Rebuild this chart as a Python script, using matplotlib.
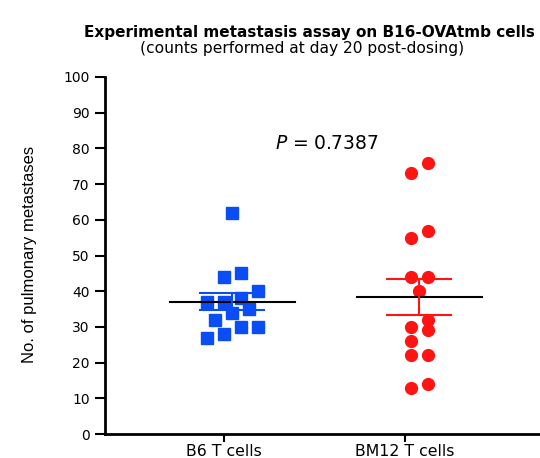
import numpy as np
import matplotlib.pyplot as plt

# data
groups = ['B6 T cells', 'BM12 T cells']
b6 = [62, 45, 44, 40, 38, 37, 37, 35, 34, 32, 30, 30, 28, 27]
bm12 = [76, 73, 57, 55, 44, 44, 40, 32, 30, 29, 26, 22, 22, 14, 13]
p_value = 0.7387

colors = ['#0a4df5', '#ff1414']
markers = ['s', 'o']

plt.rcParams['font.family'] = ['DejaVu Sans']

fig = plt.figure(figsize=(5.4, 4.58), dpi=100)
ax = fig.add_axes([105/540, 24/458, 435/540, 357/458])

xlim = (-0.657, 1.746)
ylim = (0, 100)
ax.set_xlim(*xlim)
ax.set_ylim(*ylim)

# pixel scale, used for the swarm layout
px_x = 435 / (xlim[1] - xlim[0])


def swarm(vals, step_px=17.0, h=3.5):
    # group points of close value and spread each group side by side
    vals = np.asarray(vals, dtype=float)
    order = np.argsort(vals)
    offs = np.zeros(len(vals))
    grp = []
    start = None
    groups_idx = []
    for i in order:
        if start is None or vals[i] - start >= h:
            if grp:
                groups_idx.append(grp)
            grp = [i]
            start = vals[i]
        else:
            grp.append(i)
    if grp:
        groups_idx.append(grp)
    for g in groups_idx:
        n = len(g)
        for j, i in enumerate(g):
            offs[i] = (j - (n - 1) / 2) * step_px / px_x
    return offs


shifts = [0.045, 0.08]
for i, vals in enumerate([b6, bm12]):
    vals = np.array(vals, dtype=float)
    xc = i + shifts[i]
    xs = xc + swarm(vals)
    ax.plot(xs, vals, linestyle='none', marker=markers[i], ms=8 if i == 0 else 8.5,
            mfc=colors[i], mec=colors[i], zorder=3)
    m = vals.mean()
    sem = vals.std(ddof=1) / np.sqrt(len(vals))
    ax.plot([xc - 0.345, xc + 0.345], [m, m], color='black', lw=1.5, zorder=4)
    ax.errorbar([xc], [m], yerr=[sem], fmt='none', ecolor=colors[i],
                elinewidth=1.5, capsize=0, zorder=5)
    for yy in [m - sem, m + sem]:
        ax.plot([xc - 0.177, xc + 0.177], [yy, yy], color=colors[i], lw=1.5, zorder=5)

ax.text(0.565, 81.5, r'$P$ = %.4f' % p_value, fontsize=13.5, ha='center', va='center')

ax.set_xticks([0, 1])
ax.set_xticklabels(groups, fontsize=11.3)
ax.set_yticks(np.arange(0, 101, 10))
ax.tick_params(axis='y', direction='out', length=7, width=1.5, labelsize=10, pad=4)
ax.tick_params(axis='x', direction='out', length=6, width=1.5, pad=1)

for s in ['top', 'right']:
    ax.spines[s].set_visible(False)
for s in ['left', 'bottom']:
    ax.spines[s].set_linewidth(2)

ax.set_ylabel('No. of pulmonary metastases', fontsize=12,
              family=['Liberation Sans', 'DejaVu Sans'])
ax.yaxis.set_label_coords(-0.156, 0.504)

fig.text(309, 458 - 33, 'Experimental metastasis assay on B16-OVAtmb cells',
         transform=None, ha='center', va='center', fontsize=11, fontweight='bold')
fig.text(302, 458 - 48.5, '(counts performed at day 20 post-dosing)',
         transform=None, ha='center', va='center', fontsize=11.2)

fig.savefig('out.png', dpi=100)
